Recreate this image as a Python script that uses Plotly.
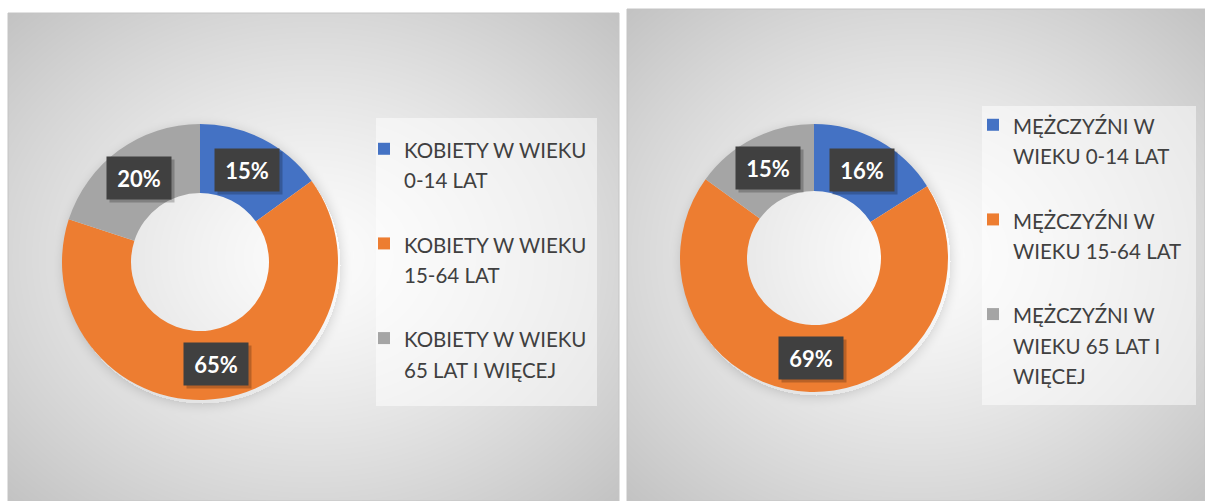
import base64, struct, zlib, math
import numpy as np
import plotly.graph_objects as go

# ---------------- data ----------------
left_labels = ["KOBIETY W WIEKU<br>0-14 LAT", "KOBIETY W WIEKU<br>15-64 LAT", "KOBIETY W WIEKU<br>65 LAT I WIĘCEJ"]
left_values = [15, 65, 20]
right_labels = ["MĘŻCZYŹNI W<br>WIEKU 0-14 LAT", "MĘŻCZYŹNI W<br>WIEKU 15-64 LAT", "MĘŻCZYŹNI W<br>WIEKU 65 LAT I<br>WIĘCEJ"]
right_values = [16, 69, 15]
colors = ["#4472C4", "#ED7D31", "#A5A5A5"]

W, H = 1205, 501
FONT = "Lato, 'Open Sans', sans-serif"
LEG_GLYPH = 20.5   # visible size of legend text
LEG_LINE = 23.5    # legend font size (sets line spacing)


def px(x):
    return x / W


def py(y):
    return 1 - y / H


def png_gray(arr):
    h, w = arr.shape
    raw = b"".join(b"\x00" + arr[i].tobytes() for i in range(h))

    def chunk(t, d):
        return struct.pack(">I", len(d)) + t + d + struct.pack(">I", zlib.crc32(t + d) & 0xffffffff)

    return (b"\x89PNG\r\n\x1a\n" + chunk(b"IHDR", struct.pack(">IIBBBBB", w, h, 8, 0, 0, 0, 0))
            + chunk(b"IDAT", zlib.compress(raw, 9)) + chunk(b"IEND", b""))


def gradient_uri(w, h, ring):
    yy, xx = np.mgrid[0:h, 0:w].astype(float)
    dx = (xx - w / 2) / (w / 2)
    dy = (yy - h / 2) / (h / 2)
    d = np.sqrt(dx ** 2 + dy ** 2) / math.sqrt(2)
    c = 253 - 58 * np.clip(d, 0, 1) ** 1.25
    # soft drop shadow of the donut
    rcx, rcy, rR = ring
    rd = np.sqrt((xx - rcx - 2) ** 2 + (yy - rcy - 3) ** 2)
    outer = np.clip((rd - rR) / 14.0, 0, 1)
    shadow = np.where(rd > rR, (1 - outer) ** 2, 0.0) * 22
    c = c - shadow
    arr = np.clip(c, 0, 255).astype(np.uint8)
    return "data:image/png;base64," + base64.b64encode(png_gray(arr)).decode()


# panels (pixel rects)
panels = [(8, 13, 619, 501), (627, 9, 1205, 501)]
# donut boxes (pixel): left, top, right, bottom
donuts = [(62, 124, 338, 400), (680, 124, 948, 392)]
legend_boxes = [(376, 118, 597, 406), (982, 106, 1196, 405)]
HOLE = 0.5

fig = go.Figure()

images = []
shapes = []
for k, (x0, y0, x1, y1) in enumerate(panels):
    dx0, dy0, dx1, dy1 = donuts[k]
    ring = ((dx0 + dx1) / 2 - x0, (dy0 + dy1) / 2 - y0, min(dx1 - dx0, dy1 - dy0) / 2)
    images.append(dict(source=gradient_uri(x1 - x0, y1 - y0, ring), xref="paper", yref="paper",
                       x=px(x0), y=py(y0), sizex=(x1 - x0) / W, sizey=(y1 - y0) / H,
                       sizing="stretch", layer="below", xanchor="left", yanchor="top"))
    shapes.append(dict(type="rect", xref="paper", yref="paper", x0=px(x0), x1=px(x1), y0=py(y1), y1=py(y0),
                       line=dict(color="#c4c4c4", width=1), fillcolor="rgba(0,0,0,0)", layer="below"))
for (x0, y0, x1, y1) in legend_boxes:
    shapes.append(dict(type="rect", xref="paper", yref="paper", x0=px(x0), x1=px(x1), y0=py(y1), y1=py(y0),
                       line=dict(width=0), fillcolor="rgba(255,255,255,0.5)", layer="below"))

annotations = []
for i, (labels, values) in enumerate([(left_labels, left_values), (right_labels, right_values)]):
    x0, y0, x1, y1 = donuts[i]
    # trailing blank line gives the wide spacing between legend entries
    leg_labels = []
    for j, lab in enumerate(labels):
        lines = lab.split("<br>")
        t = "<br>".join(f"<span style='font-size:{LEG_GLYPH}px'>{ln}</span>" for ln in lines)
        if j < len(labels) - 1:
            t += "<br> "
        leg_labels.append(t)
    fig.add_trace(go.Pie(
        labels=leg_labels, values=values, hole=HOLE, sort=False, direction="clockwise", rotation=0,
        marker=dict(colors=colors, line=dict(width=0)), textinfo="none", hoverinfo="percent",
        domain=dict(x=[px(x0), px(x1)], y=[py(y1), py(y0)]),
        legend="legend" if i == 0 else "legend2",
    ))
    # data labels at the middle of each ring segment
    cx, cy = (x0 + x1) / 2, (y0 + y1) / 2
    R = min(x1 - x0, y1 - y0) / 2
    rm = R * (1 + HOLE) / 2
    total = sum(values)
    cum = 0
    for v in values:
        mid = (cum + v / 2) / total * 2 * math.pi
        cum += v
        lx = cx + rm * math.sin(mid)
        ly = cy - rm * math.cos(mid)
        txt = f"{round(100 * v / total)}%"
        annotations.append(dict(x=px(lx + 3), y=py(ly + 3), xref="paper", yref="paper", text=" ",
                                xanchor="center", yanchor="middle",
                                showarrow=False, width=62, height=40, bgcolor="rgba(0,0,0,0.22)", borderpad=1))
        annotations.append(dict(x=px(lx), y=py(ly), xref="paper", yref="paper", text=f"<b>{txt}</b>",
                                xanchor="center", yanchor="middle",
                                showarrow=False, width=62, height=40, bgcolor="#404040", borderpad=1,
                                font=dict(family=FONT, size=22, color="white")))

leg_common = dict(bgcolor="rgba(0,0,0,0)", borderwidth=0, valign="top", xanchor="left", yanchor="top",
                  font=dict(family=FONT, size=LEG_LINE, color="#404040"), traceorder="normal")

fig.update_layout(
    width=W, height=H, margin=dict(l=0, r=0, t=0, b=0, autoexpand=False),
    paper_bgcolor="white", plot_bgcolor="white",
    showlegend=True,
    legend=dict(x=px(364), y=py(127), **leg_common),
    legend2=dict(x=px(973), y=py(103), **leg_common),
    images=images, shapes=shapes, annotations=annotations,
)

fig.write_html("out.html", config={"displayModeBar": False},
               post_script="document.body.style.margin='0';")
